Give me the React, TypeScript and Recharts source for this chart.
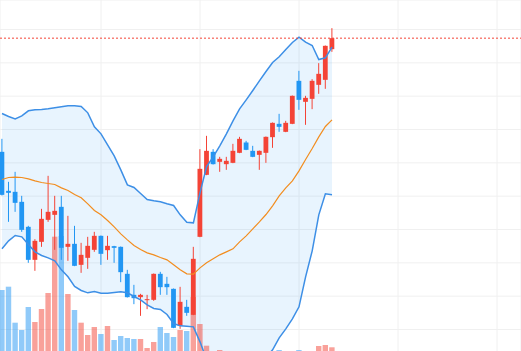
import React from 'react';
import { ComposedChart, XAxis, YAxis, CartesianGrid, Area, Line, Bar, ReferenceLine } from 'recharts';

const opens = [15.33, 14.16, 14.13, 13.83, 13.08, 12.09, 12.63, 13.29, 13.44, 13.68, 12.48, 12.57, 11.94, 12.15, 12.39, 12.81, 12.38, 12.5, 12.48, 11.67, 11.04, 10.97, 10.88, 10.89, 11.67, 11.37, 11.22, 10.11, 10.68, 10.44, 12.78, 14.64, 15.33, 15.03, 14.96, 15.0, 15.3, 15.61, 15.36, 15.24, 15.3, 15.77, 16.17, 15.93, 16.17, 17.46, 16.83, 16.92, 17.34, 17.49, 18.41];
const closes = [14.04, 14.1, 13.8, 12.99, 12.09, 12.66, 13.32, 13.53, 13.56, 12.45, 12.57, 11.91, 12.24, 12.51, 12.81, 12.27, 12.51, 12.45, 11.72, 10.97, 10.94, 11.04, 10.91, 11.67, 11.27, 11.27, 10.05, 10.83, 10.5, 12.12, 14.82, 15.36, 14.96, 15.12, 15.06, 15.36, 15.72, 15.39, 15.18, 15.36, 15.78, 16.2, 16.08, 16.2, 17.01, 16.89, 16.95, 17.46, 17.67, 18.51, 18.74];
const highs = [15.72, 14.43, 14.73, 14.01, 13.11, 12.71, 13.62, 14.61, 14.01, 14.01, 13.41, 13.11, 12.6, 12.78, 12.93, 12.82, 12.81, 12.51, 12.49, 11.79, 11.34, 11.07, 11.04, 11.68, 11.73, 11.58, 11.23, 11.28, 10.89, 12.48, 15.41, 15.81, 15.41, 15.18, 15.18, 15.57, 15.78, 15.66, 15.51, 15.37, 15.79, 16.21, 16.47, 16.26, 17.02, 17.76, 17.01, 17.51, 17.99, 18.52, 19.04];
const lows = [14.02, 13.23, 13.53, 12.93, 12.0, 11.76, 12.48, 13.23, 12.39, 12.09, 12.06, 11.9, 11.7, 11.82, 12.33, 11.94, 12.09, 12.0, 11.42, 10.96, 10.76, 10.41, 10.61, 10.86, 11.04, 11.04, 10.04, 10.02, 10.41, 10.43, 12.77, 14.63, 14.95, 14.73, 14.79, 14.99, 15.29, 15.38, 15.17, 14.79, 15.0, 15.45, 15.93, 15.92, 16.16, 16.59, 16.14, 16.61, 17.07, 17.22, 18.33];
const upperBand = [16.48, 16.39, 16.32, 16.41, 16.56, 16.59, 16.6, 16.62, 16.65, 16.68, 16.71, 16.71, 16.69, 16.5, 16.08, 15.87, 15.54, 15.21, 14.79, 14.34, 14.26, 14.08, 13.9, 13.86, 13.83, 13.77, 13.72, 13.44, 13.22, 13.2, 14.1, 14.89, 15.18, 15.51, 15.87, 16.26, 16.62, 16.89, 17.17, 17.46, 17.74, 18.01, 18.18, 18.4, 18.61, 18.77, 18.62, 18.52, 18.1, 18.15, 18.47];
const midBand = [14.5, 14.56, 14.57, 14.56, 14.52, 14.46, 14.41, 14.38, 14.35, 14.25, 14.17, 14.05, 13.95, 13.77, 13.57, 13.44, 13.27, 13.08, 12.87, 12.69, 12.52, 12.4, 12.3, 12.24, 12.16, 12.09, 11.94, 11.79, 11.67, 11.66, 11.85, 12.0, 12.12, 12.24, 12.33, 12.42, 12.63, 12.81, 13.02, 13.23, 13.45, 13.71, 14.01, 14.25, 14.46, 14.76, 15.1, 15.43, 15.78, 16.09, 16.29];
const lowerBand = [12.42, 12.66, 12.82, 12.78, 12.55, 12.33, 12.22, 12.15, 12.06, 11.79, 11.58, 11.29, 11.17, 11.1, 11.14, 11.09, 11.09, 11.11, 11.13, 11.1, 10.99, 10.89, 10.74, 10.63, 10.6, 10.45, 10.18, 10.11, 10.1, 10.08, 9.63, 9.1, 9.06, 8.96, 8.79, 8.58, 8.64, 8.73, 8.86, 9.0, 9.16, 9.39, 9.75, 10.02, 10.32, 10.68, 11.58, 12.36, 13.44, 14.07, 14.04];
const volumes = [6600, 6930, 3330, 2600, 4900, 3400, 4700, 6300, 11930, 12000, 6200, 4600, 3330, 2100, 2900, 2200, 3000, 1600, 2000, 1800, 1700, 1700, 800, 1400, 2900, 2300, 1900, 2600, 2500, 5900, 3200, 1030, 300, 600, 300, 300, 350, 300, 200, 200, 350, 350, 600, 350, 400, 600, 350, 400, 1000, 1100, 870];

const priceTicks = [10, 11, 12, 13, 14, 15, 16, 17, 18, 19];
const indexTicks = [0, 15, 30, 45, 60, 75];
const priceDomain = [9.205, 19.885];
const indexDomain = [-0.30303, 78.63636];
const volumeDomain = [0, 35600];

const UP = '#f44336';
const DOWN = '#2196f3';
const BAND = '#3d8fe6';
const MID = '#f28d1f';

const data = opens.map((o, i) => ({
  i,
  open: o,
  close: closes[i],
  high: highs[i],
  low: lows[i],
  upper: upperBand[i],
  mid: midBand[i],
  lower: lowerBand[i],
  volume: volumes[i],
}));

const lastClose = closes[closes.length - 1];

const Candle = (props: any) => {
  const { x, y, width, height, payload } = props;
  if (x == null || y == null || !payload) return null;
  const top = Math.min(y, y + height);
  const h = Math.abs(height);
  const { open, close, high, low } = payload;
  const range = high - low;
  const toPx = (v: number) => (range === 0 ? top : top + ((high - v) / range) * h);
  const cx = x + width / 2;
  const color = close >= open ? UP : DOWN;
  const bTop = toPx(Math.max(open, close));
  const bBot = toPx(Math.min(open, close));
  const bw = 4.8;
  return (
    <g>
      <line x1={cx} x2={cx} y1={top} y2={top + h} stroke={color} strokeWidth={1} />
      <rect x={cx - bw / 2} y={bTop} width={bw} height={Math.max(1, bBot - bTop)} fill={color} />
    </g>
  );
};

const VolBar = (props: any) => {
  const { x, y, width, height, payload } = props;
  if (x == null || y == null || !payload || !(height > 0)) return null;
  const cx = x + width / 2;
  const w = 5.4;
  const color = payload.close >= payload.open ? UP : DOWN;
  return <rect x={cx - w / 2} y={y} width={w} height={height} fill={color} fillOpacity={0.5} />;
};

export default function App() {
  return (
    <div style={{ position: 'absolute', left: 0, top: 0, width: 521, height: 351, overflow: 'hidden', background: '#fff' }}>
      <ComposedChart width={521} height={356} data={data} margin={{ top: 0, right: 0, bottom: 0, left: 0 }}>
        <XAxis type="number" dataKey="i" domain={indexDomain} ticks={indexTicks} allowDataOverflow hide />
        <XAxis xAxisId="v" type="number" dataKey="i" domain={indexDomain} allowDataOverflow hide />
        <YAxis type="number" domain={priceDomain} ticks={priceTicks} allowDataOverflow hide />
        <YAxis yAxisId="v" type="number" domain={volumeDomain} allowDataOverflow hide />
        <CartesianGrid stroke="#f0f0f0" strokeWidth={1} />
        <Area
          type="linear"
          dataKey={(d: any) => [d.lower, d.upper]}
          stroke="none"
          fill={DOWN}
          fillOpacity={0.1}
          isAnimationActive={false}
          activeDot={false}
        />
        <Bar
          xAxisId="v"
          yAxisId="v"
          dataKey="volume"
          barSize={4.4}
          shape={(p: any) => <VolBar {...p} />}
          isAnimationActive={false}
        />
        <Bar
          dataKey={(d: any) => [d.low, d.high]}
          barSize={4.4}
          shape={(p: any) => <Candle {...p} />}
          isAnimationActive={false}
        />
        <Line type="linear" dataKey="upper" stroke={BAND} strokeWidth={1.5} dot={false} activeDot={false} isAnimationActive={false} />
        <Line type="linear" dataKey="lower" stroke={BAND} strokeWidth={1.5} dot={false} activeDot={false} isAnimationActive={false} />
        <Line type="linear" dataKey="mid" stroke={MID} strokeWidth={1.2} dot={false} activeDot={false} isAnimationActive={false} />
        <ReferenceLine y={lastClose} stroke={UP} strokeDasharray="2 2" strokeWidth={1} />
      </ComposedChart>
    </div>
  );
}
